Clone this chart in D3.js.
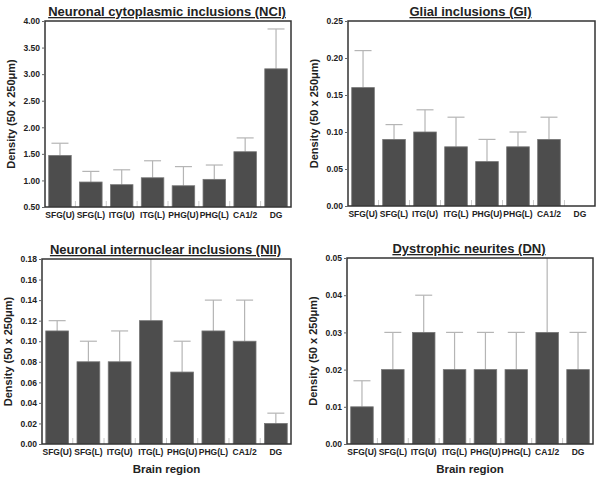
<!DOCTYPE html>
<html lang="en">
<head>
<meta charset="UTF-8">
<title>Inclusion densities by brain region</title>
<style>
    body { margin: 0; background: #fff; }
    svg text { font-family: 'Liberation Sans', Arial, sans-serif; font-weight: bold; fill: #222; }
    .tick text { font-size: 8.5px; }
</style>
<script src="https://d3js.org/d3.v7.min.js"></script>
</head>
<body>
<svg id="fig" width="602" height="481"></svg>
<script>
    // Brain regions along the x axis
    const regions = ["SFG(U)", "SFG(L)", "ITG(U)", "ITG(L)", "PHG(U)", "PHG(L)", "CA1/2", "DG"];

    // Mean densities and top of the error bar (mean + SD)
    const nciMean = [1.47, 0.97, 0.92, 1.05, 0.90, 1.02, 1.54, 3.10];
    const nciTop  = [1.70, 1.17, 1.20, 1.37, 1.26, 1.29, 1.80, 3.85];
    const giMean  = [0.16, 0.09, 0.10, 0.08, 0.06, 0.08, 0.09, null];
    const giTop   = [0.21, 0.11, 0.13, 0.12, 0.09, 0.10, 0.12, null];
    const niiMean = [0.11, 0.08, 0.08, 0.12, 0.07, 0.11, 0.10, 0.02];
    const niiTop  = [0.12, 0.10, 0.11, 0.19, 0.10, 0.14, 0.14, 0.03];
    const dnMean  = [0.010, 0.02, 0.03, 0.02, 0.02, 0.02, 0.03, 0.02];
    const dnTop   = [0.017, 0.03, 0.04, 0.03, 0.03, 0.03, 0.055, 0.03];

    // Y tick values per panel
    const nciTicks = [0.5, 1.0, 1.5, 2.0, 2.5, 3.0, 3.5, 4.0];
    const giTicks  = [0, 0.05, 0.10, 0.15, 0.20, 0.25];
    const niiTicks = [0, 0.02, 0.04, 0.06, 0.08, 0.10, 0.12, 0.14, 0.16, 0.18];
    const dnTicks  = [0, 0.01, 0.02, 0.03, 0.04, 0.05];

    const panels = [
        {title: "Neuronal cytoplasmic inclusions (NCI)", mean: nciMean, top: nciTop, ticks: nciTicks,
         domain: [0.5, 4.0], box: [45, 21, 291, 207], xlabel: false},
        {title: "Glial inclusions (GI)", mean: giMean, top: giTop, ticks: giTicks,
         domain: [0, 0.25], box: [348, 21, 595, 206], xlabel: false},
        {title: "Neuronal internuclear inclusions (NII)", mean: niiMean, top: niiTop, ticks: niiTicks,
         domain: [0, 0.18], box: [42, 259, 291, 444], xlabel: true},
        {title: "Dystrophic neurites (DN)", mean: dnMean, top: dnTop, ticks: dnTicks,
         domain: [0, 0.05], box: [347, 258, 593, 444], xlabel: true}
    ];

    const svg = d3.select("#fig");

    panels.forEach((p, i) => {
        const [x0, y0, x1, y1] = p.box;
        const g = svg.append("g");

        const x = d3.scaleBand().domain(regions).range([x0, x1]).paddingInner(0.27).paddingOuter(0.12);
        const y = d3.scaleLinear().domain(p.domain).range([y1, y0]);

        const clipId = "clip" + i;
        g.append("clipPath").attr("id", clipId)
            .append("rect").attr("x", x0).attr("y", y0).attr("width", x1 - x0).attr("height", y1 - y0);

        const data = regions.map((r, k) => ({region: r, mean: p.mean[k], top: p.top[k]}))
            .filter(d => d.mean != null);

        const plot = g.append("g").attr("clip-path", `url(#${clipId})`);

        // faint tick marks between bars along the baseline
        plot.selectAll("line.sep").data(regions.slice(1)).enter().append("line")
            .attr("x1", d => x(d) - x.step() * x.paddingInner() / 2)
            .attr("x2", d => x(d) - x.step() * x.paddingInner() / 2)
            .attr("y1", y1).attr("y2", y1 - 6)
            .attr("stroke", "#ccc").attr("stroke-width", 1);

        // error bars (upper half only)
        plot.selectAll("line.err").data(data).enter().append("line")
            .attr("x1", d => x(d.region) + x.bandwidth() / 2)
            .attr("x2", d => x(d.region) + x.bandwidth() / 2)
            .attr("y1", d => y(d.mean)).attr("y2", d => y(d.top))
            .attr("stroke", "#b5b5b5").attr("stroke-width", 1.2);
        plot.selectAll("line.cap").data(data.filter(d => d.top <= p.domain[1])).enter().append("line")
            .attr("x1", d => x(d.region) + x.bandwidth() / 2 - 8.5)
            .attr("x2", d => x(d.region) + x.bandwidth() / 2 + 8.5)
            .attr("y1", d => y(d.top)).attr("y2", d => y(d.top))
            .attr("stroke", "#b5b5b5").attr("stroke-width", 1.2);

        // bars
        plot.selectAll("rect.bar").data(data).enter().append("rect")
            .attr("x", d => x(d.region))
            .attr("y", d => y(d.mean))
            .attr("width", x.bandwidth())
            .attr("height", d => y1 - y(d.mean))
            .attr("fill", "#4d4d4d")
            .attr("stroke", "#777").attr("stroke-width", 0.8);

        // frame
        g.append("rect").attr("x", x0).attr("y", y0).attr("width", x1 - x0).attr("height", y1 - y0)
            .attr("fill", "none").attr("stroke", "#333").attr("stroke-width", 1.5);

        // y axis
        const yAxis = d3.axisLeft(y).tickValues(p.ticks).tickFormat(d3.format(".2f"))
            .tickSize(3).tickPadding(2);
        g.append("g").attr("transform", `translate(${x0},0)`).call(yAxis)
            .call(a => a.select(".domain").remove())
            .call(a => a.selectAll(".tick line").attr("stroke", "#666"));

        // x axis labels
        const xAxis = d3.axisBottom(x).tickSize(0).tickPadding(5);
        g.append("g").attr("transform", `translate(0,${y1})`).call(xAxis)
            .call(a => a.select(".domain").remove());

        // title (underlined)
        g.append("text")
            .attr("x", (x0 + x1) / 2 - 1).attr("y", y0 - 5)
            .attr("text-anchor", "middle")
            .style("font-size", "13px")
            .style("text-decoration", "underline")
            .text(p.title);

        // y axis label
        g.append("text")
            .attr("transform", `translate(${x0 - 30},${(y0 + y1) / 2}) rotate(-90)`)
            .attr("text-anchor", "middle")
            .style("font-size", "11px")
            .text("Density (50 x 250\u03bcm)");

        if (p.xlabel) {
            g.append("text")
                .attr("x", (x0 + x1) / 2).attr("y", y1 + 29)
                .attr("text-anchor", "middle")
                .style("font-size", "11.5px")
                .text("Brain region");
        }
    });
</script>
</body>
</html>
